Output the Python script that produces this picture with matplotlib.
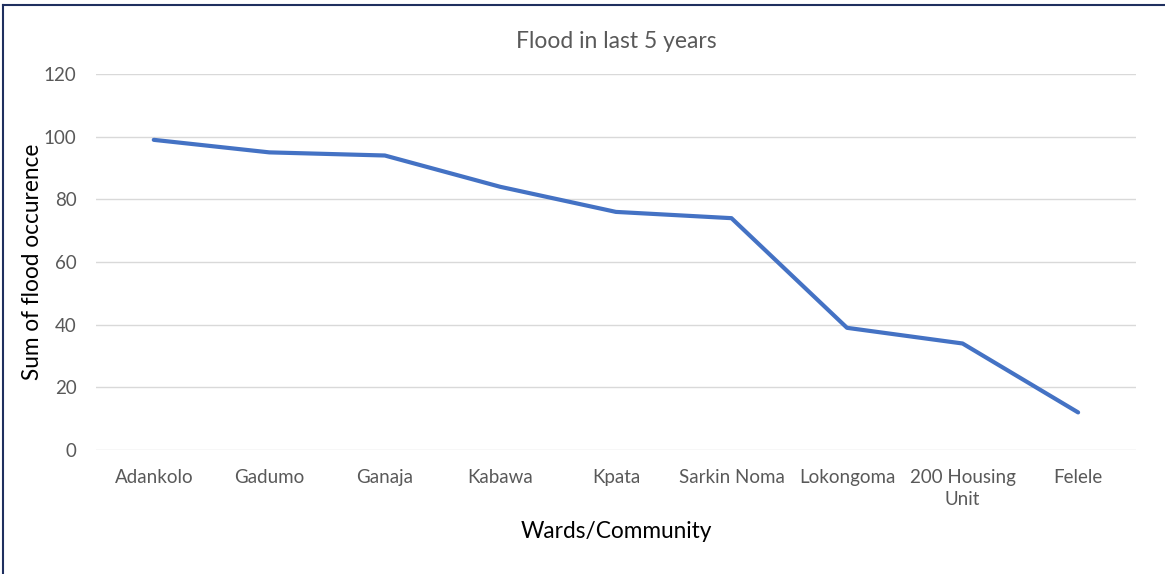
import matplotlib.pyplot as plt
from matplotlib.lines import Line2D

wards = ["Adankolo", "Gadumo", "Ganaja", "Kabawa", "Kpata", "Sarkin Noma",
         "Lokongoma", "200 Housing\nUnit", "Felele"]
floods = [99, 95, 94, 84, 76, 74, 39, 34, 12]
y_ticks = [0, 20, 40, 60, 80, 100, 120]

plt.rcParams['font.family'] = ['Lato', 'DejaVu Sans']

fig = plt.figure(figsize=(11.65, 5.74), dpi=100)
ax = fig.add_axes([0.0824, 0.216, 0.8926, 0.655])

x = list(range(len(wards)))
ax.plot(x, floods, color="#4472C4", linewidth=3, solid_capstyle="round", zorder=3)

ax.set_xlim(-0.5, len(wards) - 0.5)
ax.set_ylim(0, 120)
ax.set_yticks(y_ticks)
ax.set_xticks(x)
ax.set_xticklabels(wards, linespacing=1.35)
ax.yaxis.grid(True, color="#D9D9D9", linewidth=1)
ax.set_axisbelow(True)
for s in ax.spines.values():
    s.set_visible(False)
ax.tick_params(axis="both", length=0, labelsize=13.5, colors="#595959")
ax.tick_params(axis="x", pad=14)
ax.tick_params(axis="y", pad=14)

ax.set_title("Flood in last 5 years", fontsize=16.5, color="#595959", pad=19)
ax.set_xlabel("Wards/Community", fontsize=16.3, color="black", labelpad=9)
ax.set_ylabel("Sum of flood occurence", fontsize=16.3, color="black")
ax.yaxis.set_label_coords(-0.051, 0.5)

# frame on the top and left edges
fig.add_artist(Line2D([0.003, 0.003], [0, 0.992], transform=fig.transFigure,
                      color="#1F2F5F", linewidth=1.5))
fig.add_artist(Line2D([0.003, 1], [0.992, 0.992], transform=fig.transFigure,
                      color="#1F2F5F", linewidth=1.5))

fig.savefig("out.png", dpi=100, facecolor="white")
